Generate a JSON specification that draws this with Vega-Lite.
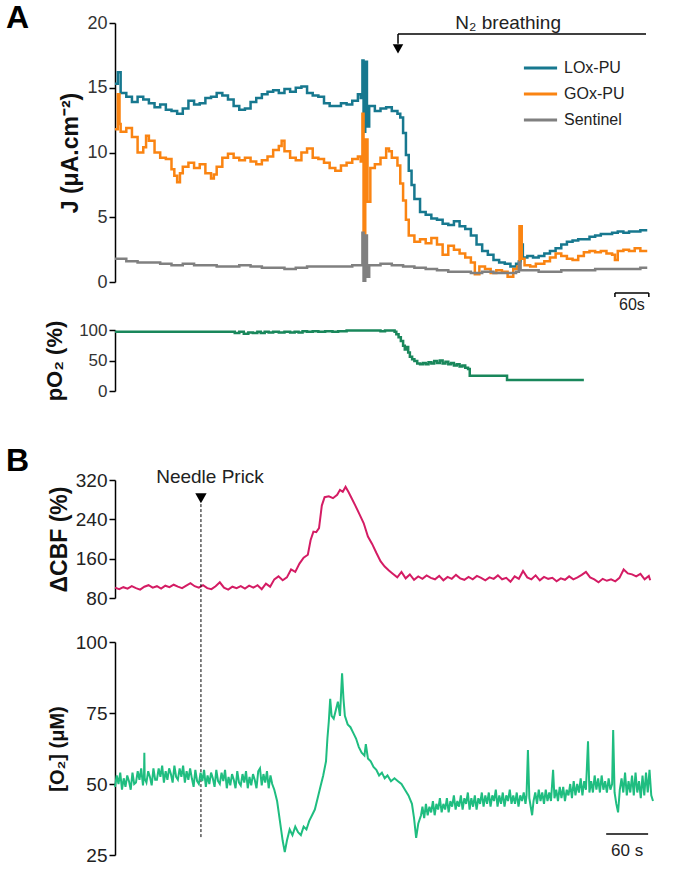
{
"$schema": "https://vega.github.io/schema/vega-lite/v6.json",
"background": "white",
"padding": {"left": 6, "top": 2, "right": 10, "bottom": 5},
"bounds": "flush",
"spacing": 20,
"config": {
  "view": {"stroke": null},
  "font": "Liberation Sans",
  "axis": {"grid": false, "domainColor": "#000", "domainWidth": 1.5, "tickColor": "#000", "tickWidth": 1.5, "tickSize": 6, "labelFont": "Liberation Sans", "labelFontSize": 18, "labelColor": "#333", "labelPadding": 2, "titleFont": "Liberation Sans", "titleFontWeight": "bold", "titleColor": "#111", "titleFontSize": 20}
},
"datasets": {
  "lox": [{"t":0,"v":15.3},{"t":5,"v":16.2},{"t":10,"v":14.6},{"t":20,"v":14.3},{"t":30,"v":13.9},{"t":40,"v":14.3},{"t":50,"v":14.1},{"t":60,"v":13.8},{"t":70,"v":13.5},{"t":80,"v":13.7},{"t":90,"v":13.3},{"t":100,"v":13.2},{"t":110,"v":13.0},{"t":120,"v":13.4},{"t":130,"v":14.0},{"t":140,"v":13.7},{"t":150,"v":13.8},{"t":160,"v":14.2},{"t":170,"v":14.3},{"t":180,"v":14.6},{"t":190,"v":14.4},{"t":200,"v":14.1},{"t":210,"v":13.6},{"t":220,"v":13.3},{"t":230,"v":13.4},{"t":240,"v":13.9},{"t":250,"v":14.2},{"t":260,"v":14.5},{"t":270,"v":14.7},{"t":280,"v":14.8},{"t":290,"v":14.6},{"t":300,"v":14.9},{"t":310,"v":14.7},{"t":320,"v":15.0},{"t":330,"v":15.1},{"t":340,"v":14.6},{"t":350,"v":14.4},{"t":360,"v":14.3},{"t":370,"v":13.8},{"t":380,"v":13.6},{"t":390,"v":13.6},{"t":400,"v":13.8},{"t":410,"v":13.7},{"t":420,"v":14.0},{"t":430,"v":14.5},{"t":435,"v":14.2},{"t":438,"v":17.1},{"t":440,"v":11.6},{"t":443,"v":17.0},{"t":446,"v":12.0},{"t":450,"v":13.6},{"t":460,"v":13.2},{"t":470,"v":13.4},{"t":480,"v":13.5},{"t":490,"v":13.2},{"t":500,"v":13.0},{"t":505,"v":12.7},{"t":510,"v":11.5},{"t":515,"v":9.8},{"t":520,"v":8.6},{"t":525,"v":7.5},{"t":530,"v":6.4},{"t":540,"v":5.4},{"t":550,"v":5.2},{"t":560,"v":4.9},{"t":570,"v":4.8},{"t":580,"v":4.5},{"t":590,"v":4.4},{"t":600,"v":4.7},{"t":610,"v":4.3},{"t":620,"v":4.1},{"t":630,"v":3.6},{"t":640,"v":2.9},{"t":650,"v":2.4},{"t":660,"v":2.1},{"t":670,"v":1.7},{"t":680,"v":1.5},{"t":690,"v":1.4},{"t":700,"v":1.2},{"t":710,"v":1.4},{"t":715,"v":1.6},{"t":718,"v":2.9},{"t":722,"v":1.9},{"t":730,"v":2.0},{"t":740,"v":1.9},{"t":750,"v":2.0},{"t":760,"v":2.2},{"t":770,"v":2.4},{"t":780,"v":2.6},{"t":790,"v":2.9},{"t":800,"v":3.1},{"t":810,"v":3.2},{"t":820,"v":3.3},{"t":830,"v":3.3},{"t":840,"v":3.5},{"t":850,"v":3.6},{"t":860,"v":3.7},{"t":870,"v":3.7},{"t":880,"v":3.8},{"t":890,"v":3.9},{"t":900,"v":3.8},{"t":910,"v":3.9},{"t":920,"v":3.9},{"t":930,"v":4.0},{"t":940,"v":3.9}],
  "gox": [{"t":0,"v":11.8},{"t":5,"v":14.5},{"t":8,"v":12.2},{"t":10,"v":11.6},{"t":20,"v":11.9},{"t":30,"v":11.2},{"t":40,"v":10.0},{"t":50,"v":10.4},{"t":55,"v":11.3},{"t":60,"v":10.9},{"t":70,"v":10.0},{"t":80,"v":9.6},{"t":90,"v":9.5},{"t":100,"v":8.7},{"t":105,"v":8.2},{"t":110,"v":7.7},{"t":115,"v":8.4},{"t":120,"v":8.9},{"t":130,"v":9.2},{"t":140,"v":8.8},{"t":150,"v":9.1},{"t":160,"v":8.4},{"t":170,"v":8.0},{"t":175,"v":8.3},{"t":180,"v":8.9},{"t":190,"v":9.6},{"t":200,"v":9.9},{"t":210,"v":9.6},{"t":220,"v":9.4},{"t":230,"v":9.6},{"t":240,"v":9.3},{"t":250,"v":9.1},{"t":260,"v":9.4},{"t":270,"v":9.7},{"t":280,"v":10.2},{"t":290,"v":10.5},{"t":295,"v":10.9},{"t":300,"v":10.1},{"t":310,"v":9.6},{"t":320,"v":9.4},{"t":330,"v":10.0},{"t":340,"v":10.3},{"t":350,"v":9.6},{"t":360,"v":9.5},{"t":370,"v":9.2},{"t":380,"v":8.8},{"t":390,"v":8.6},{"t":400,"v":9.0},{"t":410,"v":9.2},{"t":420,"v":9.5},{"t":430,"v":9.7},{"t":435,"v":9.3},{"t":438,"v":13.0},{"t":440,"v":1.5},{"t":443,"v":11.0},{"t":447,"v":6.2},{"t":452,"v":8.8},{"t":460,"v":9.1},{"t":470,"v":9.6},{"t":480,"v":10.3},{"t":485,"v":10.1},{"t":490,"v":9.6},{"t":500,"v":9.0},{"t":505,"v":7.6},{"t":510,"v":6.3},{"t":515,"v":4.8},{"t":520,"v":3.6},{"t":530,"v":3.1},{"t":540,"v":3.3},{"t":550,"v":3.0},{"t":560,"v":3.4},{"t":570,"v":2.9},{"t":580,"v":2.1},{"t":590,"v":2.8},{"t":600,"v":2.5},{"t":610,"v":2.2},{"t":620,"v":1.9},{"t":630,"v":1.5},{"t":637,"v":0.6},{"t":645,"v":1.2},{"t":655,"v":1.0},{"t":665,"v":0.7},{"t":675,"v":0.9},{"t":685,"v":0.8},{"t":695,"v":0.4},{"t":705,"v":1.0},{"t":712,"v":1.2},{"t":716,"v":4.3},{"t":720,"v":1.8},{"t":725,"v":1.3},{"t":735,"v":1.2},{"t":745,"v":1.4},{"t":760,"v":1.6},{"t":770,"v":1.9},{"t":780,"v":2.2},{"t":790,"v":2.0},{"t":800,"v":1.8},{"t":810,"v":1.7},{"t":820,"v":2.0},{"t":830,"v":2.3},{"t":840,"v":2.4},{"t":850,"v":2.3},{"t":860,"v":2.4},{"t":870,"v":2.2},{"t":880,"v":2.1},{"t":885,"v":1.7},{"t":890,"v":2.4},{"t":900,"v":2.5},{"t":910,"v":2.4},{"t":920,"v":2.6},{"t":930,"v":2.4},{"t":940,"v":2.5}],
  "sen": [{"t":0,"v":1.8},{"t":20,"v":1.6},{"t":40,"v":1.5},{"t":60,"v":1.5},{"t":80,"v":1.4},{"t":100,"v":1.3},{"t":120,"v":1.4},{"t":140,"v":1.3},{"t":160,"v":1.3},{"t":180,"v":1.2},{"t":200,"v":1.2},{"t":220,"v":1.3},{"t":240,"v":1.2},{"t":260,"v":1.1},{"t":280,"v":1.1},{"t":300,"v":1.0},{"t":320,"v":1.1},{"t":340,"v":1.2},{"t":360,"v":1.2},{"t":380,"v":1.2},{"t":400,"v":1.2},{"t":420,"v":1.3},{"t":435,"v":1.3},{"t":438,"v":3.8},{"t":440,"v":0.1},{"t":443,"v":3.6},{"t":446,"v":0.4},{"t":450,"v":1.3},{"t":470,"v":1.4},{"t":490,"v":1.3},{"t":510,"v":1.2},{"t":530,"v":1.1},{"t":550,"v":1.0},{"t":570,"v":0.9},{"t":590,"v":0.8},{"t":610,"v":0.8},{"t":630,"v":0.7},{"t":650,"v":0.8},{"t":670,"v":0.7},{"t":690,"v":0.7},{"t":710,"v":0.8},{"t":715,"v":1.5},{"t":718,"v":0.9},{"t":730,"v":0.9},{"t":750,"v":0.8},{"t":770,"v":0.8},{"t":790,"v":0.9},{"t":810,"v":0.9},{"t":830,"v":0.9},{"t":850,"v":1.0},{"t":870,"v":1.0},{"t":890,"v":1.0},{"t":910,"v":1.0},{"t":930,"v":1.1},{"t":940,"v":1.0}],
  "po2": [{"t":0,"v":97},{"t":205,"v":97},{"t":212,"v":95},{"t":220,"v":97},{"t":228,"v":94},{"t":236,"v":96},{"t":244,"v":95},{"t":252,"v":97},{"t":258,"v":95},{"t":265,"v":97},{"t":272,"v":96},{"t":280,"v":97},{"t":290,"v":96},{"t":300,"v":97},{"t":310,"v":96},{"t":318,"v":97},{"t":325,"v":96},{"t":332,"v":98},{"t":340,"v":97},{"t":350,"v":98},{"t":360,"v":97},{"t":372,"v":98},{"t":385,"v":97},{"t":395,"v":98},{"t":410,"v":99},{"t":440,"v":99},{"t":460,"v":99},{"t":470,"v":98},{"t":478,"v":99},{"t":495,"v":97},{"t":498,"v":93},{"t":502,"v":88},{"t":506,"v":82},{"t":510,"v":74},{"t":513,"v":68},{"t":516,"v":72},{"t":519,"v":63},{"t":522,"v":56},{"t":526,"v":52},{"t":530,"v":49},{"t":535,"v":45},{"t":540,"v":44},{"t":545,"v":46},{"t":550,"v":44},{"t":555,"v":47},{"t":560,"v":45},{"t":565,"v":49},{"t":570,"v":46},{"t":575,"v":50},{"t":580,"v":45},{"t":585,"v":48},{"t":590,"v":44},{"t":595,"v":46},{"t":600,"v":42},{"t":605,"v":44},{"t":610,"v":40},{"t":615,"v":42},{"t":620,"v":38},{"t":625,"v":36},{"t":628,"v":25},{"t":694,"v":18},{"t":830,"v":18}],
  "cbf": [{"t":0,"v":101},{"t":6,"v":98},{"t":12,"v":102},{"t":18,"v":99},{"t":24,"v":104},{"t":30,"v":100},{"t":36,"v":97},{"t":42,"v":103},{"t":48,"v":106},{"t":54,"v":101},{"t":60,"v":104},{"t":66,"v":99},{"t":72,"v":105},{"t":78,"v":102},{"t":84,"v":107},{"t":90,"v":103},{"t":96,"v":100},{"t":102,"v":105},{"t":108,"v":110},{"t":114,"v":104},{"t":120,"v":101},{"t":126,"v":106},{"t":132,"v":100},{"t":138,"v":98},{"t":144,"v":104},{"t":150,"v":112},{"t":156,"v":101},{"t":162,"v":97},{"t":168,"v":103},{"t":174,"v":100},{"t":180,"v":104},{"t":186,"v":99},{"t":192,"v":105},{"t":198,"v":101},{"t":204,"v":106},{"t":210,"v":98},{"t":216,"v":109},{"t":222,"v":103},{"t":228,"v":118},{"t":234,"v":124},{"t":240,"v":116},{"t":246,"v":122},{"t":252,"v":138},{"t":258,"v":133},{"t":264,"v":150},{"t":270,"v":162},{"t":276,"v":168},{"t":280,"v":198},{"t":284,"v":215},{"t":288,"v":214},{"t":292,"v":222},{"t":296,"v":268},{"t":300,"v":285},{"t":306,"v":287},{"t":312,"v":283},{"t":318,"v":290},{"t":322,"v":300},{"t":326,"v":296},{"t":330,"v":306},{"t":334,"v":296},{"t":338,"v":285},{"t":344,"v":268},{"t":350,"v":250},{"t":356,"v":232},{"t":362,"v":205},{"t":368,"v":190},{"t":374,"v":172},{"t":380,"v":155},{"t":386,"v":144},{"t":392,"v":136},{"t":398,"v":129},{"t":404,"v":122},{"t":410,"v":133},{"t":416,"v":120},{"t":422,"v":128},{"t":428,"v":117},{"t":434,"v":124},{"t":440,"v":119},{"t":446,"v":126},{"t":452,"v":121},{"t":458,"v":118},{"t":464,"v":125},{"t":470,"v":116},{"t":476,"v":123},{"t":482,"v":119},{"t":488,"v":127},{"t":494,"v":120},{"t":500,"v":117},{"t":506,"v":123},{"t":512,"v":118},{"t":518,"v":125},{"t":524,"v":121},{"t":530,"v":116},{"t":536,"v":122},{"t":542,"v":119},{"t":548,"v":126},{"t":554,"v":118},{"t":560,"v":121},{"t":566,"v":113},{"t":572,"v":124},{"t":578,"v":119},{"t":584,"v":135},{"t":590,"v":122},{"t":596,"v":118},{"t":602,"v":126},{"t":608,"v":116},{"t":614,"v":123},{"t":620,"v":119},{"t":626,"v":121},{"t":632,"v":114},{"t":638,"v":120},{"t":644,"v":117},{"t":650,"v":124},{"t":656,"v":118},{"t":662,"v":122},{"t":668,"v":127},{"t":674,"v":133},{"t":680,"v":122},{"t":686,"v":118},{"t":692,"v":112},{"t":698,"v":119},{"t":704,"v":115},{"t":710,"v":118},{"t":716,"v":114},{"t":722,"v":121},{"t":728,"v":138},{"t":734,"v":130},{"t":740,"v":128},{"t":746,"v":124},{"t":752,"v":129},{"t":758,"v":118},{"t":764,"v":125},{"t":766,"v":116}],
  "o2": [{"t":0,"v":49},{"t":2.5,"v":53},{"t":5,"v":50},{"t":7.5,"v":54},{"t":10,"v":48},{"t":12.5,"v":52},{"t":15,"v":49},{"t":17.5,"v":53},{"t":20,"v":51},{"t":22.5,"v":48},{"t":25,"v":54},{"t":27.5,"v":50},{"t":30,"v":50.5},{"t":32.5,"v":54.5},{"t":35,"v":51.5},{"t":37.5,"v":55.5},{"t":40,"v":49.5},{"t":41.5,"v":53},{"t":42,"v":61},{"t":42.5,"v":52},{"t":45,"v":50.5},{"t":47.5,"v":54.5},{"t":50,"v":52.5},{"t":52.5,"v":49.5},{"t":55,"v":55.5},{"t":57.5,"v":51.5},{"t":60,"v":51.5},{"t":62.5,"v":55.5},{"t":65,"v":52.5},{"t":67.5,"v":56.5},{"t":70,"v":50.5},{"t":72.5,"v":54.5},{"t":75,"v":51.5},{"t":77.5,"v":55.5},{"t":80,"v":53.5},{"t":82.5,"v":50.5},{"t":85,"v":56.5},{"t":87.5,"v":52.5},{"t":90,"v":51.5},{"t":92.5,"v":55.5},{"t":95,"v":52.5},{"t":97.5,"v":56.5},{"t":100,"v":50.5},{"t":102.5,"v":54.5},{"t":105,"v":51.5},{"t":107.5,"v":55.5},{"t":110,"v":52},{"t":112.5,"v":49},{"t":115,"v":55},{"t":117.5,"v":51},{"t":120,"v":50},{"t":122.5,"v":54},{"t":125,"v":51},{"t":127.5,"v":55},{"t":130,"v":49},{"t":132.5,"v":53},{"t":135,"v":50},{"t":137.5,"v":54},{"t":140,"v":52},{"t":142.5,"v":49},{"t":145,"v":55},{"t":147.5,"v":51},{"t":150,"v":50},{"t":152.5,"v":54},{"t":155,"v":51},{"t":157.5,"v":55},{"t":160,"v":48.5},{"t":162.5,"v":52.5},{"t":165,"v":49.5},{"t":167.5,"v":53.5},{"t":170,"v":51.5},{"t":172.5,"v":48.5},{"t":175,"v":54.5},{"t":177.5,"v":50.5},{"t":180,"v":49.5},{"t":182.5,"v":53.5},{"t":185,"v":50.5},{"t":187.5,"v":54.5},{"t":190,"v":48.5},{"t":192.5,"v":52.5},{"t":195,"v":49.5},{"t":197.5,"v":53.5},{"t":200,"v":51.5},{"t":202.5,"v":48.5},{"t":205,"v":54.5},{"t":207.5,"v":55.5},{"t":210,"v":49.5},{"t":212.5,"v":53.5},{"t":215,"v":50.5},{"t":217.5,"v":54.5},{"t":220,"v":48.5},{"t":222.5,"v":53},{"t":225,"v":50},{"t":228,"v":48},{"t":232,"v":44},{"t":236,"v":37},{"t":240,"v":30},{"t":243,"v":26},{"t":246,"v":30},{"t":250,"v":34},{"t":254,"v":32},{"t":258,"v":35},{"t":262,"v":33},{"t":266,"v":32},{"t":270,"v":35},{"t":274,"v":34},{"t":278,"v":37},{"t":282,"v":39},{"t":286,"v":41},{"t":290,"v":45},{"t":294,"v":49},{"t":298,"v":53},{"t":302,"v":58},{"t":304,"v":66},{"t":306,"v":72},{"t":308,"v":80},{"t":310,"v":74},{"t":313,"v":73},{"t":316,"v":76},{"t":319,"v":79},{"t":322,"v":74},{"t":325,"v":89},{"t":327,"v":80},{"t":329,"v":74},{"t":333,"v":71},{"t":337,"v":70},{"t":341,"v":68},{"t":345,"v":66},{"t":349,"v":63},{"t":353,"v":61},{"t":357,"v":60},{"t":359,"v":64},{"t":362,"v":59},{"t":366,"v":58},{"t":370,"v":56},{"t":374,"v":55},{"t":378,"v":53},{"t":382,"v":54},{"t":386,"v":52},{"t":390,"v":53},{"t":395,"v":51},{"t":400,"v":52},{"t":405,"v":51},{"t":410,"v":50},{"t":415,"v":48},{"t":420,"v":46},{"t":425,"v":43},{"t":428,"v":38},{"t":431,"v":31},{"t":434,"v":36},{"t":438,"v":39},{"t":440,"v":42},{"t":442.5,"v":38},{"t":445,"v":43},{"t":447.5,"v":39},{"t":450,"v":42},{"t":452.5,"v":40},{"t":455,"v":44},{"t":457.5,"v":39},{"t":460,"v":43},{"t":462.5,"v":41},{"t":465,"v":45},{"t":467.5,"v":40},{"t":470,"v":43},{"t":472.5,"v":41},{"t":475,"v":45},{"t":477.5,"v":40},{"t":480,"v":44},{"t":482.5,"v":42},{"t":485,"v":46},{"t":487.5,"v":41},{"t":490,"v":44},{"t":492.5,"v":42},{"t":495,"v":46},{"t":497.5,"v":41},{"t":500,"v":45},{"t":502.5,"v":43},{"t":505,"v":47},{"t":507.5,"v":41},{"t":510,"v":45},{"t":512.5,"v":42},{"t":515,"v":46},{"t":517.5,"v":41},{"t":520,"v":45},{"t":522.5,"v":43},{"t":525,"v":47},{"t":527.5,"v":42},{"t":530,"v":46},{"t":532.5,"v":43},{"t":535,"v":47},{"t":537.5,"v":42},{"t":540,"v":46},{"t":542.5,"v":44},{"t":545,"v":48},{"t":547.5,"v":42},{"t":550,"v":46},{"t":552.5,"v":43},{"t":555,"v":47},{"t":557.5,"v":42},{"t":560,"v":46},{"t":562.5,"v":44},{"t":565,"v":48},{"t":567.5,"v":43},{"t":570,"v":46},{"t":572.5,"v":43},{"t":575,"v":47},{"t":577.5,"v":42},{"t":580,"v":46},{"t":582.5,"v":44},{"t":585,"v":47},{"t":587.5,"v":43},{"t":589,"v":46},{"t":591,"v":62},{"t":593,"v":45},{"t":595,"v":42},{"t":597,"v":39},{"t":599,"v":44},{"t":601.5,"v":47},{"t":604,"v":43},{"t":606.5,"v":48},{"t":609,"v":44},{"t":611.5,"v":47},{"t":614,"v":43},{"t":616.5,"v":48},{"t":619,"v":44},{"t":621.5,"v":47},{"t":624,"v":44},{"t":627,"v":55},{"t":629,"v":45},{"t":631.5,"v":48},{"t":634,"v":44},{"t":636.5,"v":49},{"t":639,"v":45},{"t":641.5,"v":49},{"t":644,"v":44},{"t":646.5,"v":48},{"t":649,"v":46},{"t":651.5,"v":50},{"t":654,"v":45},{"t":656.5,"v":51},{"t":659,"v":46},{"t":661.5,"v":50},{"t":664,"v":47},{"t":666.5,"v":52},{"t":669,"v":46},{"t":671.5,"v":51},{"t":674,"v":48},{"t":677,"v":65},{"t":679,"v":47},{"t":681.5,"v":51},{"t":684,"v":47},{"t":686.5,"v":53},{"t":689,"v":48},{"t":691.5,"v":52},{"t":694,"v":47},{"t":696.5,"v":53},{"t":699,"v":48},{"t":701.5,"v":51},{"t":704,"v":47},{"t":706.5,"v":52},{"t":709,"v":48},{"t":711.5,"v":50},{"t":713,"v":69},{"t":715,"v":47},{"t":717.5,"v":43},{"t":720,"v":40},{"t":722.5,"v":48},{"t":725,"v":52},{"t":727.5,"v":47},{"t":730,"v":54},{"t":732.5,"v":46},{"t":735,"v":51},{"t":737.5,"v":47},{"t":740,"v":53},{"t":742.5,"v":46},{"t":745,"v":54},{"t":747.5,"v":47},{"t":750,"v":51},{"t":752.5,"v":45},{"t":755,"v":53},{"t":757.5,"v":46},{"t":760,"v":54},{"t":762.5,"v":47},{"t":765,"v":55},{"t":767.5,"v":46},{"t":770,"v":44}]
},
"vconcat": [
  {
    "width": 531, "height": 259,
    "title": {"text": "A", "anchor": "start", "frame": "group", "dx": -109, "dy": 46, "offset": 0, "baseline": "alphabetic", "fontSize": 32, "fontWeight": "bold", "font": "Liberation Sans", "color": "#000"},
    "encoding": {
      "x": {"field": "t", "type": "quantitative", "scale": {"domain": [0, 940], "nice": false, "zero": false}, "axis": null},
      "y": {"field": "v", "type": "quantitative", "scale": {"domain": [0, 20], "nice": false}, "axis": {"values": [0, 5, 10, 15, 20], "title": "J (μA.cm⁻²)", "titleFontSize": 23, "titlePadding": 4}}
    },
    "layer": [
      {"data": {"name": "lox"}, "mark": {"type": "line", "interpolate": "step-after", "strokeWidth": 2.5},
       "encoding": {"color": {"datum": "LOx-PU", "type": "nominal", "scale": {"domain": ["LOx-PU", "GOx-PU", "Sentinel"], "range": ["#17788f", "#fa8412", "#808080"]},
         "legend": {"orient": "none", "legendX": 407, "legendY": 32, "title": null, "symbolType": "stroke", "symbolSize": 1100, "symbolStrokeWidth": 3, "labelFontSize": 16, "labelFont": "Liberation Sans", "labelColor": "#222", "labelOffset": 5, "clipHeight": 26, "rowPadding": 0, "padding": 0}}}},
      {"data": {"name": "gox"}, "mark": {"type": "line", "interpolate": "step-after", "strokeWidth": 2.5},
       "encoding": {"color": {"datum": "GOx-PU", "type": "nominal"}}},
      {"data": {"name": "sen"}, "mark": {"type": "line", "interpolate": "step-after", "strokeWidth": 2.5},
       "encoding": {"color": {"datum": "Sentinel", "type": "nominal"}}},
      {"data": {"values": [{"t": 501, "t2": 940, "v": 19.15}, {"t": 885, "t2": 945, "v": -0.85}]},
       "mark": {"type": "rule", "color": "#000", "strokeWidth": 1.5, "clip": false},
       "encoding": {"x2": {"field": "t2"}}},
      {"data": {"values": [{"t": 501, "v": 19.15, "v2": 18.4}, {"t": 885, "v": -0.85, "v2": -1.15}, {"t": 945, "v": -0.85, "v2": -1.15}]},
       "mark": {"type": "rule", "color": "#000", "strokeWidth": 1.5, "clip": false},
       "encoding": {"y2": {"field": "v2"}}},
      {"data": {"values": [{"t": 501, "v": 18.0}]},
       "mark": {"type": "point", "shape": "triangle-down", "filled": true, "color": "#000", "opacity": 1, "size": 110}},
      {"data": {"values": [{"t": 696, "v": 20.0, "label": "N₂ breathing", "fs": 19}, {"t": 915, "v": -1.75, "label": "60s", "fs": 16}]},
       "mark": {"type": "text", "color": "#222", "baseline": "middle", "font": "Liberation Sans"},
       "encoding": {"text": {"field": "label"}, "size": {"field": "fs", "type": "quantitative", "scale": null, "legend": null}}}
    ]
  },
  {"width": 531, "height": 8, "data": {"values": []}, "mark": "point"},
  {
    "width": 531, "height": 61,
    "data": {"name": "po2"},
    "mark": {"type": "line", "interpolate": "step-after", "color": "#19875b", "strokeWidth": 2.5},
    "encoding": {
      "x": {"field": "t", "type": "quantitative", "scale": {"domain": [0, 940], "nice": false, "zero": false}, "axis": null},
      "y": {"field": "v", "type": "quantitative", "scale": {"domain": [0, 100], "nice": false}, "axis": {"values": [0, 50, 100], "title": "pO₂ (%)", "titleFontSize": 22, "titlePadding": 12, "labelFontSize": 17}}
    }
  },
  {"width": 531, "height": 49, "data": {"values": []}, "mark": "point"},
  {
    "width": 538, "height": 118,
    "title": {"text": "B", "anchor": "start", "frame": "group", "dx": -109, "dy": 35, "offset": 0, "baseline": "alphabetic", "fontSize": 32, "fontWeight": "bold", "font": "Liberation Sans", "color": "#000"},
    "encoding": {
      "x": {"field": "t", "type": "quantitative", "scale": {"domain": [0, 770], "nice": false, "zero": false}, "axis": null},
      "y": {"field": "v", "type": "quantitative", "scale": {"domain": [80, 320], "nice": false, "zero": false}, "axis": {"values": [80, 160, 240, 320], "title": "ΔCBF (%)", "titleFontSize": 23, "titlePadding": 4, "labelFontSize": 19, "labelColor": "#222"}}
    },
    "layer": [
      {"data": {"name": "cbf"}, "mark": {"type": "line", "color": "#d41c64", "strokeWidth": 2}},
      {"data": {"values": [{"t": 123, "v": 271, "v2": -410}]},
       "mark": {"type": "rule", "color": "#000", "strokeWidth": 1, "strokeDash": [3, 2], "clip": false},
       "encoding": {"y2": {"field": "v2"}}},
      {"data": {"values": [{"t": 123, "v": 283}]},
       "mark": {"type": "point", "shape": "triangle-down", "filled": true, "color": "#000", "opacity": 1, "size": 130}},
      {"data": {"values": [{"t": 136, "v": 326, "label": "Needle Prick"}]},
       "mark": {"type": "text", "fontSize": 19, "color": "#222", "baseline": "middle", "font": "Liberation Sans"},
       "encoding": {"text": {"field": "label"}}}
    ]
  },
  {"width": 538, "height": 4, "data": {"values": []}, "mark": "point"},
  {
    "width": 538, "height": 213,
    "encoding": {
      "x": {"field": "t", "type": "quantitative", "scale": {"domain": [0, 770], "nice": false, "zero": false}, "axis": null},
      "y": {"field": "v", "type": "quantitative", "scale": {"domain": [25, 100], "nice": false, "zero": false}, "axis": {"values": [25, 50, 75, 100], "title": "[O₂] (μM)", "titleFontSize": 20, "titlePadding": 8, "labelFontSize": 19, "labelColor": "#222"}}
    },
    "layer": [
      {"data": {"name": "o2"}, "mark": {"type": "line", "color": "#1fbd80", "strokeWidth": 2}},
      {"data": {"values": [{"t": 703, "t2": 763, "v": 32.4}]},
       "mark": {"type": "rule", "color": "#444", "strokeWidth": 2},
       "encoding": {"x2": {"field": "t2"}}},
      {"data": {"values": [{"t": 733, "v": 26.4, "label": "60 s"}]},
       "mark": {"type": "text", "fontSize": 17, "color": "#222", "baseline": "middle", "font": "Liberation Sans"},
       "encoding": {"text": {"field": "label"}}}
    ]
  }
]
}
